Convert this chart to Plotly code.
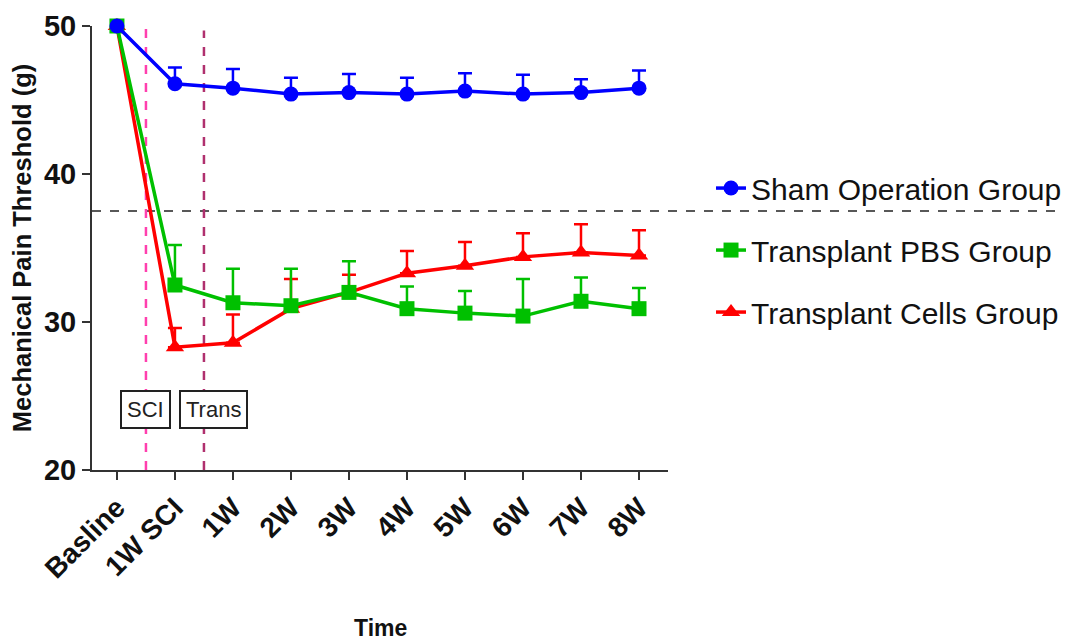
import plotly.graph_objects as go

categories = ["Basline", "1W SCI", "1W", "2W", "3W", "4W", "5W", "6W", "7W", "8W"]

sham_mean = [50.0, 46.1, 45.8, 45.4, 45.5, 45.4, 45.6, 45.4, 45.5, 45.8]
sham_err = [0.0, 1.1, 1.3, 1.1, 1.25, 1.1, 1.2, 1.3, 0.9, 1.2]

pbs_mean = [50.0, 32.5, 31.3, 31.1, 32.0, 30.9, 30.6, 30.4, 31.4, 30.9]
pbs_err = [0.0, 2.7, 2.3, 2.5, 2.1, 1.5, 1.5, 2.5, 1.6, 1.4]

cells_mean = [50.0, 28.3, 28.6, 30.9, 32.0, 33.3, 33.8, 34.4, 34.7, 34.5]
cells_err = [0.0, 1.3, 1.9, 2.0, 1.2, 1.5, 1.6, 1.6, 1.9, 1.7]

threshold = 37.5
y_range = [20, 50]
sci_pos = 0.5
trans_pos = 1.5

series = [
    ("Sham Operation Group", sham_mean, sham_err, "#0000ff", "circle", 1),
    ("Transplant PBS Group", pbs_mean, pbs_err, "#00c000", "square", 2),
    ("Transplant Cells Group", cells_mean, cells_err, "#ff0000", "triangle-up", 3),
]

fig = go.Figure()
# draw order: red below green below blue
for name, mean, err, color, sym, rank in reversed(series):
    fig.add_trace(go.Scatter(
        x=categories, y=mean, name=name, mode="lines+markers",
        line=dict(color=color, width=3.5),
        marker=dict(color=color, symbol=sym, size=15 if sym != "triangle-up" else 16),
        error_y=dict(type="data", array=err, arrayminus=[0] * len(err), symmetric=False,
                     color=color, thickness=2.5, width=7),
        cliponaxis=False, legendgroup=name, legendrank=rank,
    ))

fig.update_layout(
    width=1061, height=634,
    margin=dict(l=84, r=401, t=18, b=172, autoexpand=False),
    paper_bgcolor="white", plot_bgcolor="white",
    showlegend=True,
    legend=dict(xref="container", yref="container", x=0.6626, y=0.757,
                xanchor="left", yanchor="top",
                font=dict(family="Liberation Sans", size=30, color="#111111"),
                tracegroupgap=20, bgcolor="rgba(0,0,0,0)"),
    xaxis=dict(
        type="category", range=[-0.43, 9.5], categoryorder="array", categoryarray=categories,
        showline=True, linecolor="#333333", linewidth=2, ticks="outside", ticklen=8,
        tickwidth=2, tickcolor="#333333", tickangle=-45, showgrid=False, zeroline=False,
        automargin=False,
        tickfont=dict(family="Liberation Sans", size=28, color="#111111", weight="bold"),
    ),
    yaxis=dict(
        range=y_range, tickvals=[20, 30, 40, 50],
        showline=True, linecolor="#333333", linewidth=2, ticks="outside", ticklen=8,
        tickwidth=2, tickcolor="#333333", showgrid=False, zeroline=False,
        automargin="left",
        tickfont=dict(family="Liberation Sans", size=29, color="#111111", weight="bold"),
        title=dict(text="<b>Mechanical Pain Threshold (g)</b>",
                   font=dict(family="Liberation Sans", size=25.5, color="#111111"), standoff=8),
    ),
)

# x-axis title
fig.add_annotation(x=0.5, y=-0.356, xref="paper", yref="paper", text="<b>Time</b>",
                   showarrow=False, xanchor="center", yanchor="middle",
                   font=dict(family="Liberation Sans", size=23, color="#111111"))

# threshold line extending across into legend area
thr_paper = (threshold - y_range[0]) / (y_range[1] - y_range[0])
fig.add_shape(type="line", xref="paper", yref="paper", x0=0, x1=1.69,
              y0=thr_paper, y1=thr_paper,
              line=dict(color="#222222", width=1.5, dash="dash"), layer="below")

fig.add_shape(type="line", xref="x", yref="y", x0=sci_pos, x1=sci_pos, y0=20, y1=49.9,
              line=dict(color="#ff3fae", width=2.5, dash="dash"), layer="below")
fig.add_shape(type="line", xref="x", yref="y", x0=trans_pos, x1=trans_pos, y0=20, y1=49.7,
              line=dict(color="#b0306e", width=2.5, dash="dash"), layer="below")

fig.add_annotation(x=sci_pos, y=24.1, xref="x", yref="y", text="SCI", showarrow=False,
                   font=dict(family="Liberation Sans", size=22, color="#222222"),
                   bordercolor="#222222", borderwidth=2, borderpad=5, bgcolor="white")
fig.add_annotation(x=trans_pos + 0.16, y=24.1, xref="x", yref="y", text="Trans", showarrow=False,
                   font=dict(family="Liberation Sans", size=22, color="#222222"),
                   bordercolor="#222222", borderwidth=2, borderpad=5, bgcolor="white")

fig.write_html("out.html")
